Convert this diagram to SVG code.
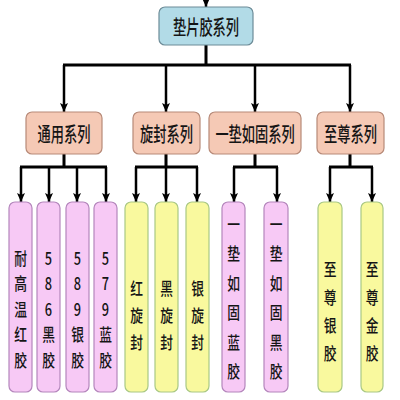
<svg xmlns="http://www.w3.org/2000/svg" width="400" height="400" viewBox="0 0 400 400">
<defs>
<marker id="ah" markerUnits="userSpaceOnUse" markerWidth="10" markerHeight="10" refX="9" refY="4" orient="auto">
<path d="M0,0 L9,4 L0,8 L2,4 z" fill="#000"/>
</marker>
<style>
.c{fill:none;stroke:#000;stroke-width:3}
.a{fill:none;stroke:#000;stroke-width:2.5;marker-end:url(#ah)}
.top{fill:#b2dbe7;stroke:#6d8c98;stroke-width:1.2}
.l2{fill:#f5c9b5;stroke:#b78a78;stroke-width:1.2}
.pk{fill:#f7c9f5;stroke:#b486bc;stroke-width:1.2}
.yl{fill:#f9f99e;stroke:#a9c884;stroke-width:1.2}
text{font-family:"Noto Sans CJK SC","Noto Sans",sans-serif;fill:#151515;font-weight:500;text-anchor:middle;dominant-baseline:central}
.t1{font-size:20px}
.t3{font-size:17px}
</style>
</defs>
<rect width="400" height="400" fill="#fff"/>
<g id="connectors">
<path class="a" d="M206,-4 V7"/>
<path class="c" d="M206,45 V65 M63,65 H351"/>
<path class="a" d="M64,65 V112"/>
<path class="a" d="M166,65 V112"/>
<path class="a" d="M255,65 V112"/>
<path class="a" d="M350,65 V112"/>
<path class="c" d="M64,154 V167 M20,167 H107"/>
<path class="a" d="M21,167 V202"/>
<path class="a" d="M49,167 V202"/>
<path class="a" d="M77,167 V202"/>
<path class="a" d="M106,167 V202"/>
<path class="c" d="M166,154 V167 M135,167 H198"/>
<path class="a" d="M136,167 V202"/>
<path class="a" d="M166,167 V202"/>
<path class="a" d="M197,167 V202"/>
<path class="c" d="M255,154 V167 M233,167 H278"/>
<path class="a" d="M234,167 V202"/>
<path class="a" d="M277,167 V202"/>
<path class="c" d="M350,154 V167 M329,167 H373"/>
<path class="a" d="M330,167 V202"/>
<path class="a" d="M372,167 V202"/>
</g>
<g id="root">
<rect class="top" x="159" y="7" width="94" height="38" rx="6"/>
<text class="t1" transform="translate(206,26) scale(0.66,1)">垫片胶系列</text>
</g>
<g id="tongyong">
<rect class="l2" x="26" y="112" width="76" height="42" rx="6"/>
<text class="t1" transform="translate(64,133) scale(0.66,1)">通用系列</text>
</g>
<g id="xuanfeng">
<rect class="l2" x="133" y="112" width="67" height="42" rx="6"/>
<text class="t1" transform="translate(166.5,133) scale(0.66,1)">旋封系列</text>
</g>
<g id="yidian">
<rect class="l2" x="209" y="112" width="92" height="42" rx="6"/>
<text class="t1" transform="translate(255,133) scale(0.66,1)">一垫如固系列</text>
</g>
<g id="zhizun">
<rect class="l2" x="317" y="112" width="67" height="42" rx="6"/>
<text class="t1" transform="translate(350.5,133) scale(0.66,1)">至尊系列</text>
</g>
<g id="leaf1">
<rect class="pk" x="9" y="202" width="23" height="190" rx="6"/>
<text class="t3" transform="translate(20.5,0) scale(0.75,1)"><tspan x="0" y="257">耐</tspan><tspan x="0" y="282.5">高</tspan><tspan x="0" y="308">温</tspan><tspan x="0" y="333.5">红</tspan><tspan x="0" y="359">胶</tspan></text>
</g>
<g id="leaf2">
<rect class="pk" x="37" y="202" width="23" height="190" rx="6"/>
<text class="t3" transform="translate(48.5,0) scale(0.75,1)"><tspan x="0" y="257">5</tspan><tspan x="0" y="282.5">8</tspan><tspan x="0" y="308">6</tspan><tspan x="0" y="333.5">黑</tspan><tspan x="0" y="359">胶</tspan></text>
</g>
<g id="leaf3">
<rect class="pk" x="66" y="202" width="23" height="190" rx="6"/>
<text class="t3" transform="translate(77.5,0) scale(0.75,1)"><tspan x="0" y="257">5</tspan><tspan x="0" y="282.5">8</tspan><tspan x="0" y="308">9</tspan><tspan x="0" y="333.5">银</tspan><tspan x="0" y="359">胶</tspan></text>
</g>
<g id="leaf4">
<rect class="pk" x="94" y="202" width="23" height="190" rx="6"/>
<text class="t3" transform="translate(105.5,0) scale(0.75,1)"><tspan x="0" y="257">5</tspan><tspan x="0" y="282.5">7</tspan><tspan x="0" y="308">9</tspan><tspan x="0" y="333.5">蓝</tspan><tspan x="0" y="359">胶</tspan></text>
</g>
<g id="leaf5">
<rect class="yl" x="125" y="202" width="23" height="190" rx="6"/>
<text class="t3" transform="translate(136.5,0) scale(0.75,1)"><tspan x="0" y="287">红</tspan><tspan x="0" y="314">旋</tspan><tspan x="0" y="341">封</tspan></text>
</g>
<g id="leaf6">
<rect class="yl" x="155" y="202" width="23" height="190" rx="6"/>
<text class="t3" transform="translate(166.5,0) scale(0.75,1)"><tspan x="0" y="287">黑</tspan><tspan x="0" y="314">旋</tspan><tspan x="0" y="341">封</tspan></text>
</g>
<g id="leaf7">
<rect class="yl" x="186" y="202" width="23" height="190" rx="6"/>
<text class="t3" transform="translate(197.5,0) scale(0.75,1)"><tspan x="0" y="287">银</tspan><tspan x="0" y="314">旋</tspan><tspan x="0" y="341">封</tspan></text>
</g>
<g id="leaf8">
<rect class="pk" x="222" y="202" width="23" height="190" rx="6"/>
<text class="t3" transform="translate(233.5,0) scale(0.75,1)"><tspan x="0" y="223">一</tspan><tspan x="0" y="252.5">垫</tspan><tspan x="0" y="282">如</tspan><tspan x="0" y="311.5">固</tspan><tspan x="0" y="341">蓝</tspan><tspan x="0" y="370.5">胶</tspan></text>
</g>
<g id="leaf9">
<rect class="pk" x="264" y="202" width="24" height="190" rx="6"/>
<text class="t3" transform="translate(276,0) scale(0.75,1)"><tspan x="0" y="223">一</tspan><tspan x="0" y="252.5">垫</tspan><tspan x="0" y="282">如</tspan><tspan x="0" y="311.5">固</tspan><tspan x="0" y="341">黑</tspan><tspan x="0" y="370.5">胶</tspan></text>
</g>
<g id="leaf10">
<rect class="yl" x="318" y="202" width="24" height="190" rx="6"/>
<text class="t3" transform="translate(330,0) scale(0.75,1)"><tspan x="0" y="268">至</tspan><tspan x="0" y="296">尊</tspan><tspan x="0" y="324">银</tspan><tspan x="0" y="352">胶</tspan></text>
</g>
<g id="leaf11">
<rect class="yl" x="361" y="202" width="22" height="190" rx="6"/>
<text class="t3" transform="translate(372,0) scale(0.75,1)"><tspan x="0" y="268">至</tspan><tspan x="0" y="296">尊</tspan><tspan x="0" y="324">金</tspan><tspan x="0" y="352">胶</tspan></text>
</g>
</svg>
